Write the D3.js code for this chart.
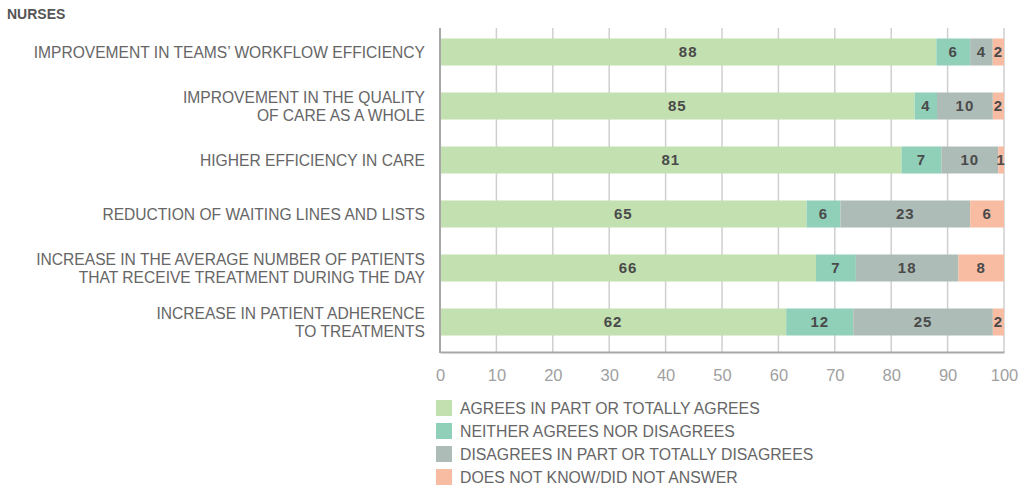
<!DOCTYPE html>
<html>
<head>
<meta charset="utf-8">
<script src="https://cdn.jsdelivr.net/npm/d3@7"></script>
<style>
  html, body { margin: 0; padding: 0; background: #fff; }
  svg { display: block; }
  text { font-family: "Liberation Sans", Arial, sans-serif; }
</style>
</head>
<body>
<svg id="chart" width="1022" height="486"></svg>
<script>
// Survey statements (each entry is one or two label lines)
const statements = [
  ["IMPROVEMENT IN TEAMS’ WORKFLOW EFFICIENCY"],
  ["IMPROVEMENT IN THE QUALITY", "OF CARE AS A WHOLE"],
  ["HIGHER EFFICIENCY IN CARE"],
  ["REDUCTION OF WAITING LINES AND LISTS"],
  ["INCREASE IN THE AVERAGE NUMBER OF PATIENTS", "THAT RECEIVE TREATMENT DURING THE DAY"],
  ["INCREASE IN PATIENT ADHERENCE", "TO TREATMENTS"]
];

// Answer shares (%) per statement
const agrees      = [88, 85, 81, 65, 66, 62];
const neither     = [6, 4, 7, 6, 7, 12];
const disagrees   = [4, 10, 10, 23, 18, 25];
const doesNotKnow = [2, 2, 1, 6, 8, 2];

const answerNames = [
  "AGREES IN PART OR TOTALLY AGREES",
  "NEITHER AGREES NOR DISAGREES",
  "DISAGREES IN PART OR TOTALLY DISAGREES",
  "DOES NOT KNOW/DID NOT ANSWER"
];
const answerColors = ["#c3e0b0", "#90d0b9", "#adbcb6", "#f8bca3"];

const tickValues = [0, 10, 20, 30, 40, 50, 60, 70, 80, 90, 100];

const keys = ["agrees", "neither", "disagrees", "doesNotKnow"];
const rows = statements.map((s, i) => ({
  idx: i,
  agrees: agrees[i],
  neither: neither[i],
  disagrees: disagrees[i],
  doesNotKnow: doesNotKnow[i]
}));

const svg = d3.select("#chart");

const x = d3.scaleLinear().domain([0, 1]).range([440, 1004]);
const xPct = d3.scaleLinear().domain([0, 100]).range([440, 1004]);
const y = d3.scaleBand().domain(rows.map(d => d.idx)).range([25, 349]).paddingInner(0.5).paddingOuter(0.25);

// Percent-stacked layout: each bar fills the full width
const series = d3.stack().keys(keys).offset(d3.stackOffsetExpand)(rows);

// Title
svg.append("text")
  .attr("x", 7).attr("y", 19)
  .attr("font-size", 14).attr("font-weight", "bold")
  .attr("fill", "#555")
  .text("NURSES");

// Vertical gridlines behind the bars
svg.append("g")
  .selectAll("line")
  .data(tickValues.slice(1))
  .join("line")
  .attr("x1", d => xPct(d)).attr("x2", d => xPct(d))
  .attr("y1", 28).attr("y2", 352)
  .attr("stroke", "#cfcfcf").attr("stroke-width", 1.5);

// Stacked bars
const layer = svg.append("g")
  .selectAll("g")
  .data(series)
  .join("g")
  .attr("fill", (d, i) => answerColors[i]);

layer.selectAll("rect")
  .data(d => d)
  .join("rect")
  .attr("x", d => x(d[0]))
  .attr("y", d => y(d.data.idx))
  .attr("width", d => x(d[1]) - x(d[0]))
  .attr("height", y.bandwidth());

// Value labels centred in each segment
svg.append("g")
  .selectAll("g")
  .data(series)
  .join("g")
  .selectAll("text")
  .data(s => s.map(d => ({ d, key: s.key })))
  .join("text")
  .attr("x", o => (x(o.d[0]) + x(o.d[1])) / 2)
  .attr("y", o => y(o.d.data.idx) + y.bandwidth() / 2)
  .attr("dy", "0.36em")
  .attr("text-anchor", "middle")
  .attr("font-family", "'Open Sans', sans-serif")
  .attr("font-size", 15).attr("font-weight", 600)
  .attr("letter-spacing", 1)
  .attr("fill", "#4a4a4a")
  .text(o => o.d.data[o.key]);

// Axis lines
const xAxis = d3.axisBottom(xPct).tickValues(tickValues).tickSize(0).tickPadding(17);
const axisG = svg.append("g")
  .attr("transform", "translate(0,352)")
  .call(xAxis);
axisG.select(".domain").attr("stroke", "#a8a8a8").attr("stroke-width", 2);
axisG.selectAll("text")
  .attr("font-size", 16.5).attr("fill", "#a0a0a0")
  .attr("font-family", "'Liberation Sans', Arial, sans-serif");

svg.append("line")
  .attr("x1", 440).attr("x2", 440)
  .attr("y1", 28).attr("y2", 353)
  .attr("stroke", "#a8a8a8").attr("stroke-width", 2);

// Category labels
const labels = svg.append("g")
  .selectAll("text")
  .data(rows)
  .join("text")
  .attr("text-anchor", "end")
  .attr("font-size", 15.6)
  .attr("fill", "#666")
  .attr("transform", d => `translate(425,${y(d.idx) + y.bandwidth() / 2})`);

labels.selectAll("tspan")
  .data(d => statements[d.idx].map((line, j, arr) => ({ line, j, n: arr.length })))
  .join("tspan")
  .attr("x", 0)
  .attr("y", t => (t.j - (t.n - 1) / 2) * 18)
  .attr("dy", "0.36em")
  .text(t => t.line);

// Legend
const legend = svg.append("g")
  .selectAll("g")
  .data(answerNames)
  .join("g")
  .attr("transform", (d, i) => `translate(436,${400 + i * 23})`);

legend.append("rect")
  .attr("width", 16).attr("height", 16)
  .attr("fill", (d, i) => answerColors[i]);

legend.append("text")
  .attr("x", 24).attr("y", 8)
  .attr("dy", "0.36em")
  .attr("font-size", 15.8)
  .attr("fill", "#666")
  .text(d => d);
</script>
</body>
</html>
